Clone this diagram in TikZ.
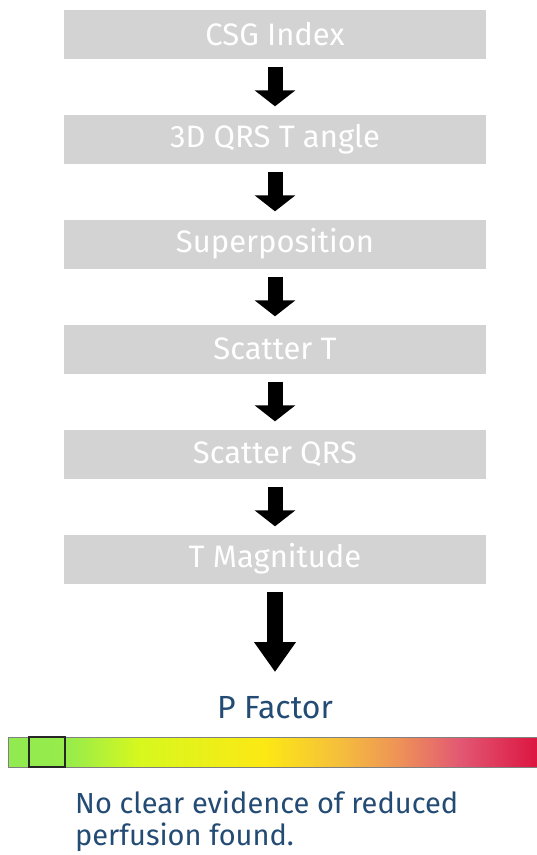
\documentclass[tikz,border=0pt]{standalone}
\usepackage{fontspec}
\setmainfont{Fira Sans}[Scale=1]
\usetikzlibrary{arrows.meta}
\definecolor{boxgray}{RGB}{211,211,211}
\definecolor{navy}{RGB}{35,75,115}
\definecolor{gA}{RGB}{144,234,80}
\definecolor{gB}{RGB}{152,236,74}
\definecolor{gC}{RGB}{215,248,30}
\definecolor{gD}{RGB}{252,232,20}
\definecolor{gE}{RGB}{245,190,60}
\definecolor{gF}{RGB}{238,145,88}
\definecolor{gG}{RGB}{226,88,115}
\definecolor{gH}{RGB}{220,22,65}
\tikzset{
  stepbox/.style={draw=none, fill=boxgray, minimum width=422pt, minimum height=49pt, inner sep=0pt, text=white, font=\fontsize{31}{36}\selectfont},
  flowarrow/.style={line width=15pt, -{Triangle[width=40pt,length=16pt]}, shorten <=8pt, shorten >=8pt},
  bigarrow/.style={line width=16pt, -{Triangle[width=40pt,length=30pt]}, shorten <=8pt},
}
\begin{document}
\begin{tikzpicture}[x=1pt,y=-1pt]
\useasboundingbox (0,0) rectangle (537,855);
\node[stepbox] (b1) at (275,34) {CSG Index};
\node[stepbox] (b2) at (275,139) {3D QRS T angle};
\node[stepbox] (b3) at (275,244) {Superposition};
\node[stepbox] (b4) at (275,349) {Scatter T};
\node[stepbox] (b5) at (275,454) {Scatter QRS};
\node[stepbox] (b6) at (275,559) {T Magnitude};
\draw[flowarrow] (b1) -- (b2);
\draw[flowarrow] (b2) -- (b3);
\draw[flowarrow] (b3) -- (b4);
\draw[flowarrow] (b4) -- (b5);
\draw[flowarrow] (b5) -- (b6);
\coordinate (pfin) at (275,672);
\draw[bigarrow] (b6) -- (pfin);
\node[text=navy, font=\fontsize{32}{36}\selectfont, anchor=base] (pf) at (275,718) {P Factor};
% gradient bar
\shade[left color=gA, right color=gB] (8,737) rectangle (70,767);
\shade[left color=gB, right color=gC] (70,737) rectangle (140,767);
\shade[left color=gC, right color=gD] (140,737) rectangle (265,767);
\shade[left color=gD, right color=gE] (265,737) rectangle (340,767);
\shade[left color=gE, right color=gF] (340,737) rectangle (400,767);
\shade[left color=gF, right color=gG] (400,737) rectangle (460,767);
\shade[left color=gG, right color=gH] (460,737) rectangle (537,767);
\node[draw=gray, line width=1pt, minimum width=529pt, minimum height=30pt, inner sep=0pt] (bar) at (272.5,752) {};
\node[draw=black!85, line width=2.5pt, minimum width=36pt, minimum height=30pt, inner sep=0pt] (mark) at (47,752) {};
\node[text=navy, font=\fontsize{29}{32}\selectfont, anchor=base west, align=left, inner sep=0pt] (msg) at (75,845) {No clear evidence of reduced\\perfusion found.};
\end{tikzpicture}
\end{document}
